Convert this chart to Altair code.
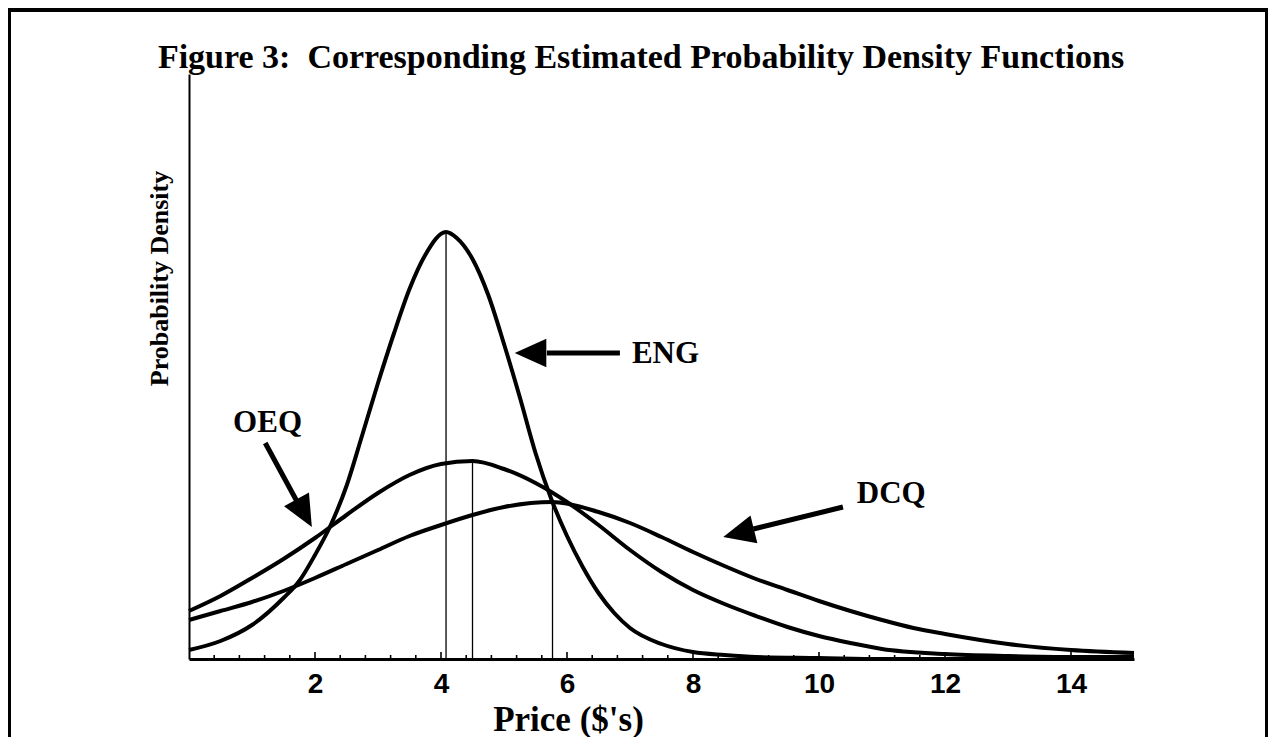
import altair as alt
import pandas as pd

# ---- data (density in arbitrary units) ----
eng_x = [0, 0.5, 1, 1.5, 1.75, 2, 2.25, 2.5, 2.75, 3, 3.25, 3.5, 3.75, 4.08, 4.25, 4.5,
         4.75, 5, 5.25, 5.5, 5.75, 6, 6.25, 6.5, 6.75, 7, 7.5, 8, 8.5, 9, 10, 11, 15]
eng_y = [0.009, 0.018, 0.034, 0.061, 0.078, 0.104, 0.134, 0.173, 0.224, 0.276, 0.325,
         0.370, 0.404, 0.427, 0.421, 0.400, 0.364, 0.315, 0.262, 0.206, 0.160, 0.123,
         0.092, 0.066, 0.046, 0.031, 0.015, 0.007, 0.004, 0.002, 0.001, 0.0, 0.0]

oeq_x = [0, 0.5, 1, 1.5, 2, 2.5, 3, 3.5, 4, 4.5, 5, 5.5, 6, 6.5, 7, 7.5, 8, 8.5, 9,
         9.5, 10, 10.5, 11, 12, 13, 14, 15]
oeq_y = [0.048, 0.063, 0.081, 0.100, 0.121, 0.144, 0.166, 0.184, 0.195, 0.198, 0.190,
         0.176, 0.157, 0.134, 0.109, 0.087, 0.069, 0.055, 0.043, 0.032, 0.023, 0.016,
         0.010, 0.005, 0.003, 0.002, 0.002]

dcq_x = [0, 0.5, 1, 1.5, 2, 2.5, 3, 3.5, 4, 4.5, 5, 5.77, 6.5, 7, 7.5, 8, 8.5, 9, 9.5,
         10, 10.5, 11, 11.5, 12, 13, 14, 15]
dcq_y = [0.039, 0.048, 0.057, 0.068, 0.081, 0.095, 0.109, 0.123, 0.134, 0.144, 0.152,
         0.157, 0.147, 0.136, 0.122, 0.107, 0.093, 0.080, 0.069, 0.058, 0.048, 0.039,
         0.031, 0.025, 0.015, 0.009, 0.006]

# modes (vertical reference lines)
mode_series = ["ENG", "OEQ", "DCQ"]
mode_x = [4.08, 4.50, 5.77]
mode_top = [0.427, 0.198, 0.157]

# axis tick labels
major_ticks = [2, 4, 6, 8, 10, 12, 14]
minor_ticks = [round(0.4 * i, 1) for i in range(1, 38) if i % 5 != 0]

# annotations
label_text = ["ENG", "OEQ", "DCQ"]
label_x = [7.03, 0.70, 10.60]
label_y = [0.296, 0.227, 0.156]
shaft_x = [6.84, 1.21, 10.38]
shaft_y = [0.306, 0.216, 0.152]
base_x = [5.68, 1.71, 8.96]
base_y = [0.306, 0.158, 0.130]
tip_x = [5.17, 1.95, 8.48]
tip_y = [0.306, 0.132, 0.122]
head_angle = [270, 151, 256]

title_text = "Figure 3:\u00a0 Corresponding Estimated Probability Density Functions"

# ---- tables ----
curves_df = pd.concat([
    pd.DataFrame({"price": eng_x, "density": eng_y, "series": "ENG"}),
    pd.DataFrame({"price": oeq_x, "density": oeq_y, "series": "OEQ"}),
    pd.DataFrame({"price": dcq_x, "density": dcq_y, "series": "DCQ"}),
])
modes_df = pd.DataFrame({"series": mode_series, "price": mode_x, "top": mode_top, "zero": 0.0})
ticks_df = pd.concat([
    pd.DataFrame({"price": major_ticks, "len": 0.007}),
    pd.DataFrame({"price": minor_ticks, "len": 0.004}),
])
ticks_df["zero"] = 0.0
ann_df = pd.DataFrame({"text": label_text, "lx": label_x, "ly": label_y,
                       "sx": shaft_x, "sy": shaft_y, "bx": base_x, "by": base_y,
                       "tx": tip_x, "ty": tip_y, "angle": head_angle})

SERIF = "Liberation Serif"
xscale = alt.Scale(domain=[0, 15], nice=False, zero=False)
yscale = alt.Scale(domain=[0, 0.585], nice=False)

x_axis = alt.Axis(values=major_ticks, format="d", grid=False, ticks=False, tickSize=0,
                  labelFont="Liberation Sans", labelFontWeight="bold", labelFontSize=28,
                  labelColor="black", labelPadding=11, labelFlush=False,
                  domainColor="black", domainWidth=3,
                  title="Price ($'s)", titleFont=SERIF, titleFontSize=35,
                  titleFontWeight="bold", titleColor="black", titleX=379, titleY=71,
                  titleAlign="center", titleBaseline="alphabetic")
y_axis = alt.Axis(labels=False, ticks=False, grid=False, domainColor="black", domainWidth=2,
                  title="Probability Density", titleFont=SERIF, titleFontSize=26,
                  titleFontWeight="bold", titleColor="black", titleAngle=270,
                  titleX=-22, titleY=204, titleAlign="center", titleBaseline="alphabetic")

curves = alt.Chart(curves_df).mark_line(color="black", strokeWidth=4, interpolate="monotone").encode(
    x=alt.X("price:Q", scale=xscale, axis=x_axis),
    y=alt.Y("density:Q", scale=yscale, axis=y_axis),
    detail="series:N",
)

modes = alt.Chart(modes_df).mark_rule(color="black", strokeWidth=1.3).encode(
    x=alt.X("price:Q", scale=xscale),
    y=alt.Y("zero:Q", scale=yscale),
    y2="top:Q",
)

ticks = alt.Chart(ticks_df).mark_rule(color="black", strokeWidth=1.6).encode(
    x=alt.X("price:Q", scale=xscale),
    y=alt.Y("zero:Q", scale=yscale),
    y2="len:Q",
)

labels = alt.Chart(ann_df).mark_text(font=SERIF, fontSize=31, fontWeight="bold", color="black",
                                     align="left", baseline="alphabetic").encode(
    x=alt.X("lx:Q", scale=xscale),
    y=alt.Y("ly:Q", scale=yscale),
    text="text:N",
)

shafts = alt.Chart(ann_df).mark_rule(color="black", strokeWidth=5).encode(
    x=alt.X("sx:Q", scale=xscale),
    y=alt.Y("sy:Q", scale=yscale),
    x2="bx:Q",
    y2="by:Q",
)

heads = alt.Chart(ann_df).mark_point(shape="M0,0 L0.9,2 L-0.9,2 Z", filled=True, size=1000,
                                     color="black", opacity=1, strokeWidth=0).encode(
    x=alt.X("tx:Q", scale=xscale),
    y=alt.Y("ty:Q", scale=yscale),
    angle=alt.Angle("angle:Q", scale=None),
)

one = pd.DataFrame({"k": [0]})
title_mark = alt.Chart(pd.DataFrame({"t": [title_text]})).mark_text(
    font=SERIF, fontSize=34, fontWeight="bold", color="black",
    align="center", baseline="alphabetic").encode(
    x=alt.value(452), y=alt.value(-6), text="t:N")
frame_top = alt.Chart(one).mark_rule(color="black", strokeWidth=4).encode(
    x=alt.value(-190), x2=alt.value(1090), y=alt.value(-64))
frame_left = alt.Chart(one).mark_rule(color="black", strokeWidth=3).encode(
    x=alt.value(-179.5), y=alt.value(-66), y2=alt.value(700))
frame_right = alt.Chart(one).mark_rule(color="black", strokeWidth=3).encode(
    x=alt.value(1077.5), y=alt.value(-66), y2=alt.value(700))

chart = alt.layer(curves, modes, ticks, shafts, heads, labels, title_mark,
                  frame_top, frame_left, frame_right).properties(
    width=945, height=585,
    autosize=alt.AutoSizeParams(type="none"),
    padding={"left": 181, "top": 66, "right": 134, "bottom": 78},
    background="white",
).configure_view(stroke=None)

chart.save("out.html", embed_options={"renderer": "svg", "actions": False})
